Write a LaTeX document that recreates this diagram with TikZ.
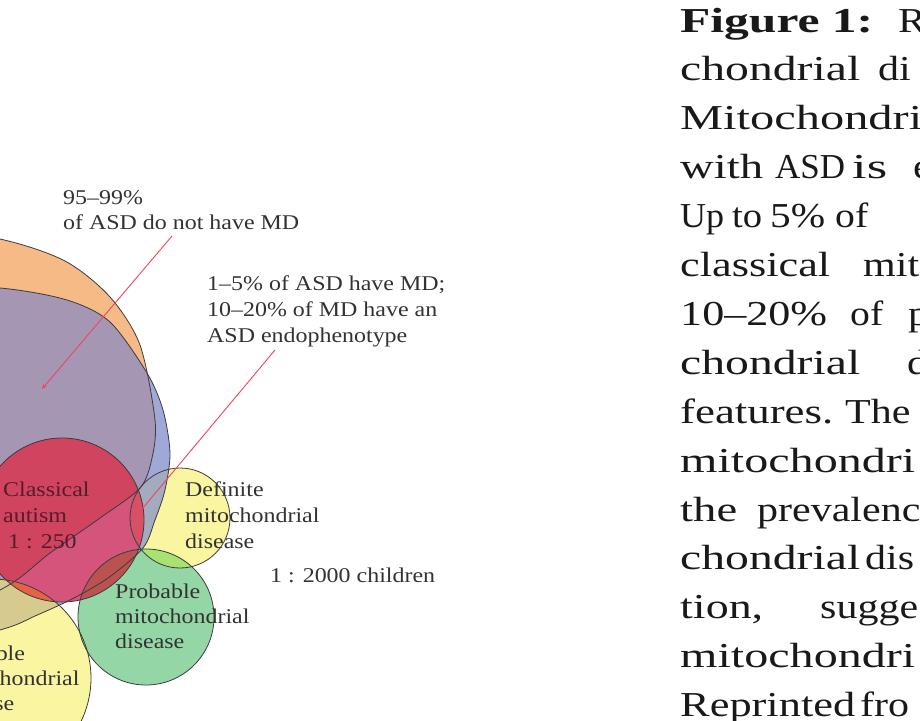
\documentclass[tikz,border=0pt]{standalone}
\usepackage{fontspec}
\usepackage{graphicx}
\setmainfont{Liberation Serif}
\newfontfamily\labelfont[FakeStretch=1.14]{Liberation Serif}
\newfontfamily\captionfont[FakeStretch=1.2]{Liberation Serif}
\usetikzlibrary{arrows.meta}
\definecolor{asdorange}{RGB}{246,186,135}
\definecolor{mdblue}{RGB}{160,168,216}
\definecolor{bothpurple}{RGB}{165,150,180}
\definecolor{autismred}{RGB}{208,68,96}
\definecolor{autismpink}{RGB}{212,84,124}
\definecolor{mdyellow}{RGB}{250,245,160}
\definecolor{mdgrey}{RGB}{164,170,192}
\definecolor{defred}{RGB}{216,80,102}
\definecolor{mdgreen}{RGB}{148,214,166}
\definecolor{probred}{RGB}{186,82,80}
\definecolor{limegreen}{RGB}{168,226,112}
\definecolor{tealgreen}{RGB}{95,180,160}
\definecolor{possred}{RGB}{230,98,70}
\definecolor{olive}{RGB}{214,202,142}
\definecolor{outline}{RGB}{60,60,60}
\definecolor{pointred}{RGB}{240,70,90}
\definecolor{labelgray}{RGB}{50,50,50}
\definecolor{autismtext}{RGB}{85,28,42}
\definecolor{captiontext}{RGB}{25,25,25}

\newcommand{\fitword}[2]{\resizebox{#1pt}{\height}{#2}}

\def\asdshape{plot[smooth cycle] coordinates {(-300,420) (-230,270) (-100,224) (0,239) (65,261) (110,297) (140,345) (155,420) (152,458) (140,488) (100,518) (50,553) (0,590) (-120,640) (-250,580)}}
\def\mdshape{plot[smooth cycle] coordinates {(-300,450) (-220,320) (-100,285) (0,288) (67,300) (110,322) (147,373) (163,410) (170,453) (165,490) (155,520) (143,548) (108,578) (72,599) (35,616) (0,630) (-120,660) (-250,600)}}
\def\autismshape{(62,520) circle (82)}
\def\definiteshape{(180,518) circle (50)}
\def\probableshape{(146,617) circle (68)}
\def\possibleshape{(-8,678) circle (99)}

\begin{document}
\begin{tikzpicture}[x=1pt,y=-1pt,
    venn/.style={draw=outline,line width=0.8pt},
    lbl/.style={font=\labelfont\fontsize{21}{25}\selectfont,text=labelgray,anchor=base west,inner sep=0pt},
    col/.style={font=\captionfont\fontsize{35}{40}\selectfont,text=captiontext,anchor=base west,inner sep=0pt},
    colbold/.style={col,font=\captionfont\bfseries\fontsize{35}{40}\selectfont},
    pointer/.style={draw=pointred,line width=0.9pt,-{Stealth[length=5pt,width=4pt]}}]
\useasboundingbox (0,0) rectangle (920,720);
\clip (0,0) rectangle (920,720);

\fill[asdorange] \asdshape;
\fill[mdblue] \mdshape;
\begin{scope} \clip \asdshape; \fill[bothpurple] \mdshape; \end{scope}

\fill[autismpink] \autismshape;
\begin{scope} \clip \asdshape; \fill[autismred] \autismshape; \end{scope}

\fill[mdyellow] \possibleshape;
\begin{scope} \clip \possibleshape; \fill[olive] \mdshape; \fill[possred] \autismshape; \end{scope}

\fill[mdyellow] \definiteshape;
\begin{scope} \clip \definiteshape; \fill[mdgrey] \mdshape; \fill[defred] \autismshape; \end{scope}

\fill[mdgreen] \probableshape;
\begin{scope} \clip \probableshape;
  \fill[tealgreen] \mdshape; \fill[probred] \autismshape;
  \fill[limegreen] \definiteshape; \fill[limegreen] \possibleshape;
\end{scope}

\draw[venn] \asdshape;
\draw[venn] \mdshape;
\draw[venn] \autismshape;
\draw[venn] \possibleshape;
\draw[venn] \definiteshape;
\draw[venn] \probableshape;

\node[lbl] (n1) at (63,204) {95–99\%};
\node[lbl] (n2) at (63,229) {of ASD do not have MD};
\node[lbl] (h1) at (207,290) {1–5\% of ASD have MD;};
\node[lbl] (h2) at (207,316) {10–20\% of MD have an};
\node[lbl] (h3) at (207,342) {ASD endophenotype};

\coordinate (a1s) at (172,236);
\coordinate (a1e) at (42,389);
\coordinate (a2s) at (275,350);
\coordinate (a2e) at (137,515);
\draw[pointer] (a1s) -- (a1e);
\draw[pointer] (a2s) -- (a2e);

\node[lbl,text=autismtext] (c1) at (3,496) {Classical};
\node[lbl,text=autismtext] (c2) at (3,522) {autism};
\node[lbl,text=autismtext] (c3) at (8,548) {1 : 250};
\node[lbl] (d1) at (185,496) {Definite};
\node[lbl] (d2) at (185,522) {mitochondrial};
\node[lbl] (d3) at (185,548) {disease};
\node[lbl] (ratio) at (270,582) {1 : 2000 children};
\node[lbl] (p1) at (115,598) {Probable};
\node[lbl] (p2) at (115,623) {mitochondrial};
\node[lbl] (p3) at (115,648) {disease};
\node[lbl] (q1) at (-55,660) {Possible};
\node[lbl] (q2) at (-55,685) {mitochondrial};
\node[lbl] (q3) at (-55,710) {disease};

\node[colbold] (f0) at (680,32) {\fitword{193}{Figure 1:}};
\node[col] (f0b) at (898,32) {R};
\node[col] (f1) at (680,80.9) {\fitword{180}{chondrial}};
\node[col] (f1b) at (878,80.9) {di};
\node[col] (f2) at (680,129.8) {\fitword{242}{Mitochondri}};
\node[col] (f3) at (680,178.7) {\fitword{83}{with}};
\node[col] (f3b) at (775,178.7) {\fitword{70}{ASD}};
\node[col] (f3c) at (852,178.7) {\fitword{35}{is}};
\node[col] (f3d) at (913,178.7) {e};
\node[col] (f4) at (680,227.6) {\fitword{44}{Up}};
\node[col] (f4b) at (732,227.6) {\fitword{30}{to}};
\node[col] (f4c) at (770,227.6) {\fitword{55}{5\%}};
\node[col] (f4d) at (835,227.6) {\fitword{33}{of}};
\node[col] (f5) at (680,276.5) {\fitword{150}{classical}};
\node[col] (f5b) at (863,276.5) {mit};
\node[col] (f6) at (680,325.4) {\fitword{147}{10–20\%}};
\node[col] (f6b) at (850,325.4) {\fitword{33}{of}};
\node[col] (f6c) at (908,325.4) {p};
\node[col] (f7) at (680,374.3) {\fitword{180}{chondrial}};
\node[col] (f7b) at (907,374.3) {d};
\node[col] (f8) at (680,423.2) {\fitword{153}{features.}};
\node[col] (f8b) at (845,423.2) {The};
\node[col] (f9) at (680,472.1) {\fitword{235}{mitochondri}};
\node[col] (f10) at (680,521) {\fitword{57}{the}};
\node[col] (f10b) at (757,521) {prevalenc};
\node[col] (f11) at (680,569.9) {\fitword{180}{chondrial}};
\node[col] (f11b) at (865,569.9) {dis};
\node[col] (f12) at (680,618.8) {\fitword{83}{tion,}};
\node[col] (f12b) at (820,618.8) {sugge};
\node[col] (f13) at (680,667.7) {\fitword{235}{mitochondri}};
\node[col] (f14) at (680,716.6) {\fitword{175}{Reprinted}};
\node[col] (f14b) at (860,716.6) {fro};
\end{tikzpicture}
\end{document}
